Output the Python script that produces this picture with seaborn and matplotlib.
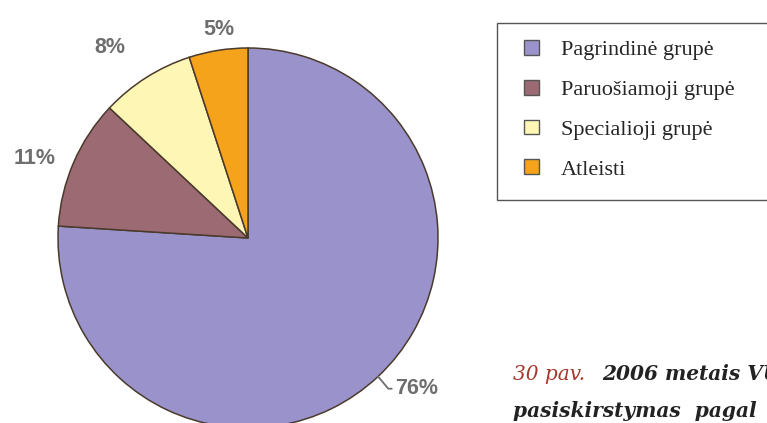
import numpy as np
import matplotlib
matplotlib.use("Agg")
import matplotlib.pyplot as plt
from matplotlib.patches import Patch, Rectangle
import seaborn as sns

# data
groups = ["Pagrindinė grupė", "Paruošiamoji grupė", "Specialioji grupė", "Atleisti"]
shares = [76, 11, 8, 5]
colors = ["#9a93cb", "#9b6a73", "#fdf6b4", "#f5a31a"]
caption_num = "30 pav."
caption_line1 = "2006 metais VU"
caption_line2 = "pasiskirstymas  pagal"

sns.set_theme(style="white")
plt.rcParams['font.family'] = ['Liberation Sans', 'DejaVu Sans']

W, H = 767, 423
fig = plt.figure(figsize=(W / 100, H / 100), dpi=100)
fig.patch.set_facecolor("white")

# pie axes: circle centre at (248, 238) px, radius 190 px
r_px = 190
cx, cy = 248, 238
ax = fig.add_axes([(cx - r_px) / W, (H - cy - r_px) / H, 2 * r_px / W, 2 * r_px / H])
wedges, _ = ax.pie(shares, colors=colors, startangle=90, counterclock=False,
                   radius=1.0, wedgeprops=dict(edgecolor="#4a3a2c", linewidth=1.1))
ax.set_xlim(-1, 1)
ax.set_ylim(-1, 1)
ax.set_aspect("equal")
ax.axis("off")

# percentage labels around the pie
label_dist = [1.19, 1.20, 1.24, 1.11]
angle_nudge = [5, 3, 3.5, -1]
for i, w in enumerate(wedges):
    mid = np.deg2rad((w.theta1 + w.theta2) / 2)
    lab = np.deg2rad(np.rad2deg(mid) + angle_nudge[i])
    tx, ty = label_dist[i] * np.cos(lab), label_dist[i] * np.sin(lab)
    txt = f"{shares[i]}%"
    if i == 0:
        ex, ey = np.cos(mid), np.sin(mid)
        ax.annotate(txt, xy=(ex, ey), xytext=(tx, ty), ha="center", va="center",
                    fontsize=15.5, fontweight="bold", color="#6e6e6e", annotation_clip=False,
                    arrowprops=dict(arrowstyle="-", color="#6e6e6e", lw=1.3,
                                    shrinkA=17, shrinkB=0,
                                    connectionstyle="angle,angleA=0,angleB=-50,rad=0"))
    else:
        ax.text(tx, ty, txt, ha="center", va="center", fontsize=15.5,
                fontweight="bold", color="#6e6e6e")

# legend box
fig.patches.append(Rectangle((497 / W, 1 - 200 / H), 300 / W, 177 / H,
                             transform=fig.transFigure, facecolor="white",
                             edgecolor="#555555", linewidth=1.0))
handles = [Patch(facecolor=c, edgecolor="#555555", linewidth=1.0) for c in colors]
fig.legend(handles, groups, loc="upper left", bbox_to_anchor=(513 / W, 1 - 29 / H),
           frameon=False, borderpad=0, handlelength=0.65, handleheight=0.65,
           handletextpad=1.0, labelspacing=0.88,
           prop=dict(family="Liberation Serif", size=16))

# caption (cut off at the right edge, as in the page)
fig.text(513 / W, 1 - 380 / H, caption_num, family="DejaVu Serif", style="italic",
         fontsize=14.5, color="#a53a2c")
fig.text(602 / W, 1 - 380 / H, caption_line1, family="DejaVu Serif", style="italic",
         fontweight="bold", fontsize=14.5, color="#222222")
fig.text(513 / W, 1 - 417 / H, caption_line2, family="DejaVu Serif", style="italic",
         fontweight="bold", fontsize=14.5, color="#222222")

fig.savefig("out.png", dpi=100)
